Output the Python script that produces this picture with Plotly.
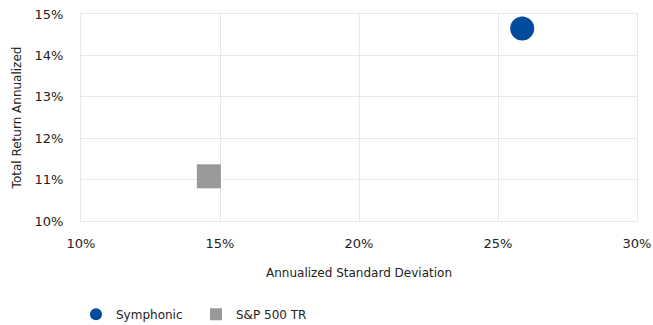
import plotly.graph_objects as go

series = ["Symphonic", "S&P 500 TR"]
std_dev = [25.87, 14.6]
total_return = [14.65, 11.08]
colors = ["#004b9c", "#999999"]
symbols = ["circle", "square"]

x_ticks = [10, 15, 20, 25, 30]
x_labels = ["10%", "15%", "20%", "25%", "30%"]
y_ticks = [10, 11, 12, 13, 14, 15]
y_labels = ["10%", "11%", "12%", "13%", "14%", "15%"]

fig = go.Figure()
for name, xv, yv, c, s in zip(series, std_dev, total_return, colors, symbols):
    fig.add_trace(go.Scatter(
        x=[xv], y=[yv], name=name, mode="markers",
        marker=dict(color=c, symbol=s, size=24, line=dict(width=0)),
    ))

font = "DejaVu Sans, Verdana, sans-serif"
fig.update_layout(
    width=653, height=325,
    margin=dict(l=81, r=16, t=14, b=104, autoexpand=False),
    paper_bgcolor="white", plot_bgcolor="white",
    font=dict(family=font, size=12, color="#222222"),
    showlegend=True,
    legend=dict(orientation="h", x=-0.009, xanchor="left", y=-0.381, yanchor="top",
                itemsizing="constant", font=dict(size=12), entrywidth=75),
    xaxis=dict(range=[10, 30], tickvals=x_ticks, ticktext=x_labels,
               showgrid=True, gridcolor="#e8e8e8", zeroline=False,
               showline=True, linecolor="#e8e8e8", mirror=True, automargin=False,
               ticklabelstandoff=10, tickfont=dict(size=13), ticklabeloverflow="allow",
               title=dict(text="Annualized Standard Deviation", font=dict(size=12), standoff=19),
               ticks="", ticklen=0),
    yaxis=dict(range=[10, 15], tickvals=y_ticks, ticktext=y_labels,
               showgrid=True, gridcolor="#e8e8e8", zeroline=False,
               showline=True, linecolor="#e8e8e8", mirror=True, automargin=False,
               ticklabelstandoff=14, tickfont=dict(size=13), ticklabeloverflow="allow",
               title=dict(text="Total Return Annualized", font=dict(size=12), standoff=10),
               ticks="", ticklen=0),
)

fig.write_html("out.html", config={"displayModeBar": False},
               post_script="document.body.style.margin='0';document.body.style.overflow='hidden';")
